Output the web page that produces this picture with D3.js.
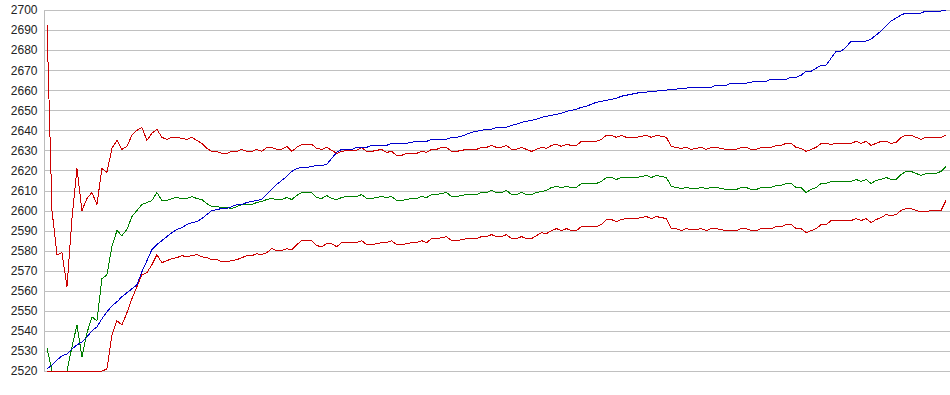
<!DOCTYPE html>
<html>
<head>
<meta charset="utf-8">
<script src="https://cdn.jsdelivr.net/npm/d3@7"></script>
<style>
  body { margin: 0; background: #fff; }
  .axis text { font-family: "Liberation Sans", Arial, sans-serif; font-size: 12px; fill: #222; }
  .axis .domain { stroke: #bbb; }
  .axis .tick line { stroke: #c0c0c0; }
  .series { fill: none; stroke-width: 1px; shape-rendering: crispEdges; }
</style>
</head>
<body>
<svg id="chart"></svg>
<script>
// y tick labels
var yTicks = [2520, 2530, 2540, 2550, 2560, 2570, 2580, 2590, 2600, 2610,
  2620, 2630, 2640, 2650, 2660, 2670, 2680, 2690, 2700];

// price (blue)
var price = [
  2521, 2523, 2525.5, 2527.5, 2528.5, 2531, 2533, 2534.5, 2537, 2540,
  2542, 2546, 2549.5, 2552.5, 2554.5, 2557, 2559, 2561, 2563, 2569.5,
  2575, 2580.5, 2583, 2585, 2587, 2589, 2590.5, 2591.5, 2593, 2594,
  2594.5, 2596, 2598, 2600, 2600.5, 2601, 2601, 2602, 2603, 2603,
  2604, 2604.5, 2605, 2605.5, 2608, 2610.5, 2613, 2615, 2617, 2619.5,
  2621, 2621.5, 2621.5, 2622, 2622.5, 2622.5, 2623, 2626, 2629, 2630.5,
  2630.5, 2630.5, 2631.5, 2631.5, 2631.5, 2632.5, 2632.5, 2632.5, 2632.5, 2633.5,
  2633.5, 2633.5, 2633.5, 2634, 2634.5, 2634.5, 2634.5, 2635.5, 2635.5, 2635.5,
  2635.5, 2636.5, 2636.5, 2637, 2638, 2639, 2639.5, 2640, 2640.5, 2640.5,
  2641.5, 2641.5, 2641.5, 2642.5, 2643, 2644, 2644.5, 2645, 2645.5, 2646.5,
  2647, 2647.5, 2648, 2648.5, 2649.5, 2650, 2650.5, 2651.5, 2652, 2653,
  2654, 2654.5, 2655, 2655.5, 2656, 2657, 2657.5, 2658, 2658.5, 2659,
  2659, 2659.5, 2659.5, 2660, 2660, 2660.5, 2660.5, 2661, 2661, 2661.5,
  2661.5, 2661.5, 2661.5, 2661.5, 2662.5, 2662.5, 2662.5, 2663.5, 2663.5, 2663.5,
  2663.5, 2664, 2664.5, 2664.5, 2664.5, 2665.5, 2665.5, 2665.5, 2665.5, 2666.5,
  2666.5, 2667.5, 2669.5, 2669.5, 2671, 2672.5, 2672.5, 2676, 2679.5, 2679.5,
  2681.5, 2684.5, 2684.5, 2684.5, 2684.5, 2685.5, 2687.5, 2689.5, 2692, 2694.5,
  2696, 2697.5, 2698.5, 2698.5, 2698.5, 2698.5, 2699.5, 2699.5, 2699.5, 2699.5,
  2700
];

// middle band (green)
var middle = [
  2531.5, 2520, 2520, 2520, 2520, 2532, 2543, 2527, 2539, 2547,
  2545, 2566, 2568, 2582, 2590, 2587.5, 2590.5, 2597, 2600, 2603,
  2604, 2605, 2609, 2605, 2605, 2606, 2606.5, 2606, 2606, 2607,
  2606, 2605.5, 2603.5, 2602, 2602, 2601.5, 2601.5, 2601, 2602, 2603,
  2603, 2603, 2604, 2604.5, 2605.5, 2606, 2605.5, 2605.5, 2606.5, 2605.5,
  2607.5, 2609, 2609, 2609, 2606.5, 2606, 2607.5, 2606, 2605.5, 2606.5,
  2607, 2607, 2607, 2608, 2606, 2606, 2606.5, 2607, 2606.5, 2607,
  2605, 2605, 2605.5, 2606, 2606, 2607, 2606.5, 2608, 2608, 2608.5,
  2609, 2607, 2607, 2607.5, 2608, 2608, 2608, 2609, 2609, 2610,
  2609, 2609, 2610, 2608, 2608, 2609, 2608, 2608, 2609, 2609.5,
  2610, 2611.5, 2612, 2611.5, 2612, 2611.5, 2611.5, 2613.5, 2613.5, 2613.5,
  2613.5, 2614.5, 2616.5, 2616.5, 2615.5, 2616.5, 2616.5, 2616.5, 2616.5, 2617,
  2617.5, 2616.5, 2617.5, 2617, 2616.5, 2612, 2611.5, 2611, 2611.5, 2611,
  2611, 2611.5, 2611, 2611.5, 2611.5, 2611, 2610.5, 2610.5, 2610.5, 2611.5,
  2611.5, 2610.5, 2610.5, 2611.5, 2611.5, 2611.5, 2612.5, 2612.5, 2613.5, 2613.5,
  2611.5, 2611.5, 2609, 2610.5, 2611.5, 2613.5, 2613.5, 2614.5, 2614.5, 2614.5,
  2614.5, 2614.5, 2615.5, 2614.5, 2615.5, 2613.5, 2615, 2615.5, 2616.5, 2615.5,
  2615.5, 2618, 2619.5, 2619.5, 2618.5, 2617.5, 2618.5, 2618.5, 2618.5, 2619.5,
  2622
];

// upper band (red)
var upper = [
  2693, 2600, 2578, 2579, 2562, 2596, 2621, 2600, 2606, 2609,
  2603, 2621, 2619, 2631, 2635, 2630.5, 2632, 2637.5, 2640, 2641.5,
  2635, 2638.5, 2640.5, 2636.5, 2635.5, 2636.5, 2636.5, 2636, 2635.5, 2636.5,
  2635, 2633.5, 2631, 2629.5, 2629.5, 2628.5, 2628.5, 2629.5, 2629.5, 2630.5,
  2629.5, 2629.5, 2630.5, 2629.5, 2631.5, 2631.5, 2630.5, 2630.5, 2632, 2629.5,
  2631.5, 2633, 2633, 2633, 2631, 2630.5, 2631.5, 2630, 2628.5, 2629.5,
  2630, 2630, 2630, 2631.5, 2629.5, 2629.5, 2630, 2630.5, 2629, 2629.5,
  2627.5, 2627.5, 2628.5, 2628.5, 2628.5, 2629.5, 2629, 2630.5, 2630.5, 2631.5,
  2631.5, 2629.5, 2629.5, 2630, 2630.5, 2630.5, 2630.5, 2631.5, 2631.5, 2632.5,
  2631.5, 2631.5, 2632.5, 2630.5, 2630.5, 2631.5, 2630.5, 2629.5, 2630.5, 2631.5,
  2631, 2632.5, 2633, 2632, 2633, 2632.5, 2632.5, 2634.5, 2634.5, 2634.5,
  2634.5, 2635.5, 2637.5, 2637.5, 2636.5, 2637.5, 2636.5, 2636.5, 2636.5, 2637,
  2637.5, 2636.5, 2637.5, 2637, 2636.5, 2632, 2631.5, 2631, 2631.5, 2630.5,
  2631, 2631.5, 2630.5, 2631.5, 2631.5, 2631, 2630.5, 2630.5, 2630.5, 2631.5,
  2631.5, 2630.5, 2630.5, 2631.5, 2631.5, 2631.5, 2632.5, 2632.5, 2633.5, 2633.5,
  2631.5, 2631, 2629.5, 2630.5, 2631.5, 2633.5, 2633.5, 2633, 2633.5, 2633.5,
  2633.5, 2633.5, 2634.5, 2633.5, 2634.5, 2632.5, 2633.5, 2634.5, 2634.5, 2633.5,
  2634, 2636.5, 2637.5, 2637.5, 2636.5, 2635.5, 2636.5, 2636.5, 2636.5, 2636.5,
  2637.5
];

// lower band (red), clipped at the bottom of the chart
var lower = [
  2520, 2520, 2520, 2520, 2520, 2520, 2520, 2520, 2520, 2520,
  2520, 2520, 2521, 2538, 2545, 2543, 2549, 2556, 2562, 2568,
  2569, 2573, 2578, 2574, 2575, 2576, 2576.5, 2577.5, 2577, 2577.5,
  2578, 2577, 2576.5, 2575.5, 2575.5, 2574.5, 2574.5, 2575, 2575.5, 2576.5,
  2577.5, 2577.5, 2578.5, 2578, 2579, 2581, 2580, 2580, 2581, 2580.5,
  2583, 2585, 2585, 2585, 2582.5, 2582, 2583.5, 2583.5, 2582, 2584,
  2584, 2584, 2584, 2585, 2583, 2583, 2583.5, 2584, 2584, 2585,
  2583, 2583, 2583.5, 2584, 2584, 2585, 2584, 2586, 2586, 2586.5,
  2587, 2585, 2585, 2585.5, 2586, 2586, 2586, 2587, 2587, 2588,
  2587, 2587, 2588, 2586, 2586, 2587, 2586, 2586, 2587.5, 2589,
  2588.5, 2590, 2591, 2590, 2591, 2590, 2590, 2592, 2592, 2592,
  2592, 2593, 2595.5, 2595.5, 2594.5, 2595.5, 2596, 2596, 2596, 2596.5,
  2597, 2596, 2597, 2596.5, 2596, 2591, 2591, 2590, 2591, 2590.5,
  2590.5, 2591, 2590, 2591, 2591, 2590.5, 2590, 2590, 2590, 2591,
  2591, 2590, 2590, 2591, 2591, 2591, 2592, 2592, 2593, 2593,
  2591, 2591, 2589, 2590, 2591, 2593, 2593, 2595, 2595, 2595,
  2595, 2595, 2596, 2595, 2596, 2594, 2595.5, 2596.5, 2598, 2597.5,
  2598, 2600, 2601, 2601, 2600, 2599.5, 2599.5, 2600, 2600, 2600,
  2605
];

var width = 950, height = 395;
var margin = {top: 10, right: 0, bottom: 24, left: 43.5};

var svg = d3.select('#chart')
  .attr('width', width)
  .attr('height', height);

var x = d3.scaleLinear().domain([0, price.length - 1]).range([47, 946]);
var y = d3.scaleLinear().domain([2520, 2700]).range([371, 10]);

// gridlines + labels
var yAxis = d3.axisLeft(y)
  .tickValues(yTicks)
  .tickFormat(d3.format('d'))
  .tickSize(-(width - margin.left))
  .tickSizeOuter(0)
  .tickPadding(6);

svg.append('g')
  .attr('class', 'axis')
  .attr('transform', 'translate(' + margin.left + ',0)')
  .attr('shape-rendering', 'crispEdges')
  .call(yAxis);

var line = d3.line()
  .x(function(d, i) { return x(i); })
  .y(function(d) { return y(d); });

var series = [
  {values: middle, color: '#008000'},
  {values: upper, color: '#cc0000'},
  {values: lower, color: '#cc0000'},
  {values: price, color: '#0000cc'}
];

svg.selectAll('.series')
  .data(series)
  .enter().append('path')
  .attr('class', 'series')
  .attr('stroke', function(d) { return d.color; })
  .attr('d', function(d) { return line(d.values); });
</script>
</body>
</html>
